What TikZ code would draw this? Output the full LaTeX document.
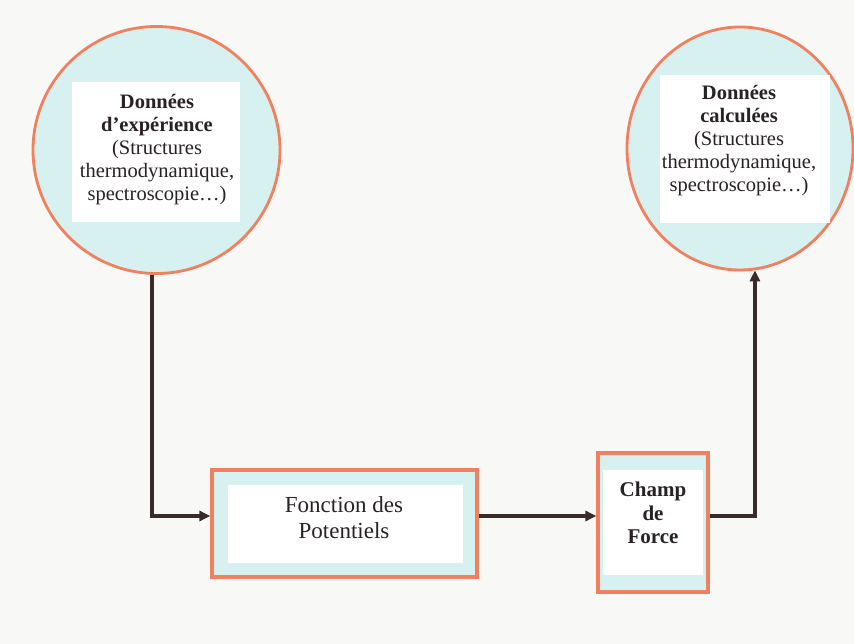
\documentclass[tikz,border=0pt]{standalone}
\usepackage{fontspec}
\setmainfont{Liberation Serif}
\usetikzlibrary{shapes.geometric,arrows.meta,calc}
\definecolor{bord}{HTML}{F2805E}
\definecolor{cyanfill}{HTML}{D6F1EF}
\definecolor{inkline}{HTML}{3A2B2B}
\definecolor{bgpaper}{HTML}{F8F8F7}
\definecolor{txt}{HTML}{2A2222}
\tikzset{
  outercirc/.style={ellipse, draw=bord, line width=2.8pt, fill=cyanfill, inner sep=0pt},
  outerbox/.style={rectangle, draw=bord, line width=3.2pt, fill=cyanfill, inner sep=0pt},
  whitebox/.style={rectangle, fill=white, inner sep=0pt},
  label/.style={align=center, text=txt, inner sep=0pt},
  arr/.style={draw=inkline, line width=3.4pt, -{Triangle[length=11pt,width=10pt]}}
}
\begin{document}
\begin{tikzpicture}[x=1pt,y=-1pt]
\fill[bgpaper] (0,0) rectangle (854,644);
\useasboundingbox (0,0) rectangle (854,644);
% left circle
\node[outercirc, minimum width=247pt, minimum height=247pt] (c1) at (156.5,150) {};
\node[whitebox, minimum width=168pt, minimum height=140pt] (w1) at (156,152) {};
\node[label, font=\fontsize{20.5}{23}\selectfont] (t1) at (157,150)
  {\textbf{Données}\\ \textbf{d’expérience}\\ (Structures\\ thermodynamique,\\ spectroscopie…)};
% right circle
\node[outercirc, minimum width=226pt, minimum height=243pt] (c2) at (740,148.5) {};
\node[whitebox, minimum width=170pt, minimum height=148pt] (w2) at (745,149) {};
\node[label, font=\fontsize{20.5}{23}\selectfont] (t2) at (739,141)
  {\textbf{Données}\\ \textbf{calculées}\\ (Structures\\ thermodynamique,\\ spectroscopie…)};
% Fonction des Potentiels
\node[outerbox, minimum width=265pt, minimum height=107pt] (fp) at (344.5,523.5) {};
\node[whitebox, minimum width=235pt, minimum height=78pt] (w3) at (345.5,524) {};
\node[label, font=\fontsize{23}{26}\selectfont] (t3) at (344,518) {Fonction des\\ Potentiels};
% Champ de Force
\node[outerbox, minimum width=110pt, minimum height=139pt] (cf) at (653,522.5) {};
\node[whitebox, minimum width=100pt, minimum height=105pt] (w4) at (653,522.5) {};
\node[label, font=\fontsize{21}{23.5}\selectfont\bfseries] (t4) at (653,513) {Champ\\ de\\ Force};
% connectors
\coordinate (lvl) at (0,516);
\draw[arr] (c1.-92) |- (fp.west |- lvl);
\draw[arr] (fp.east |- lvl) -- (cf.west |- lvl);
\draw[arr] (cf.east |- lvl) -| (c2.-83);
\end{tikzpicture}
\end{document}
